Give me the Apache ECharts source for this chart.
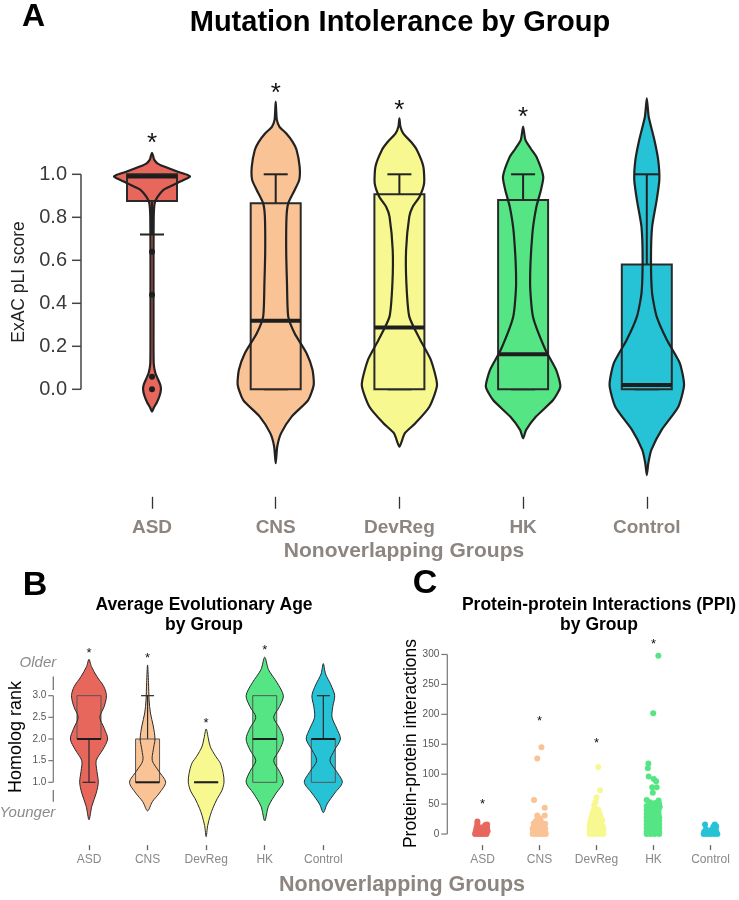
<!DOCTYPE html>
<html>
<head>
<meta charset="utf-8">
<script src="https://cdn.jsdelivr.net/npm/echarts@6/dist/echarts.min.js"></script>
<style>html,body{margin:0;padding:0;background:#fff}#main{width:739px;height:900px}</style>
</head>
<body>
<div id="main"></div>
<script>
var groups = ['ASD', 'CNS', 'DevReg', 'HK', 'Control'];
var colors = ['#E8675D', '#FAC396', '#F8F891', '#56E584', '#26C3D6'];

// A: pLI violins, [value, relative half width]
var pliViolinASD = [[1.100,0],[1.085,0.03],[1.067,0.06],[1.050,0.15],[1.036,0.32],[1.012,0.68],[0.996,0.95],[0.989,1.0],[0.980,0.92],[0.961,0.68],[0.930,0.32],[0.896,0.15],[0.865,0.07],[0.80,0.045],[0.60,0.04],[0.30,0.04],[0.12,0.045],[0.075,0.09],[0.05,0.15],[0.02,0.22],[0.0,0.235],[-0.03,0.2],[-0.06,0.13],[-0.085,0.05],[-0.104,0]];
var pliViolinCNS = [[1.338,0],[1.299,0.012],[1.253,0.03],[1.221,0.1],[1.19,0.28],[1.15,0.45],[1.113,0.55],[1.036,0.63],[0.974,0.62],[0.927,0.5],[0.865,0.33],[0.803,0.285],[0.648,0.276],[0.493,0.297],[0.338,0.33],[0.26,0.5],[0.167,0.815],[0.09,0.97],[0.02,1.0],[-0.05,0.855],[-0.127,0.42],[-0.205,0.14],[-0.267,0.04],[-0.344,0]];
var pliViolinDevReg = [[1.26,0],[1.222,0.025],[1.19,0.1],[1.15,0.31],[1.113,0.46],[1.036,0.63],[0.958,0.65],[0.896,0.53],[0.849,0.35],[0.803,0.26],[0.648,0.176],[0.493,0.184],[0.338,0.26],[0.229,0.55],[0.136,0.83],[0.02,0.99],[-0.081,0.79],[-0.158,0.42],[-0.205,0.14],[-0.267,0]];
var pliViolinHK = [[1.222,0],[1.16,0.06],[1.12,0.2],[1.082,0.35],[0.989,0.53],[0.927,0.47],[0.849,0.35],[0.725,0.245],[0.493,0.184],[0.338,0.26],[0.183,0.59],[0.09,0.87],[0.012,0.98],[-0.05,0.79],[-0.127,0.34],[-0.189,0.08],[-0.228,0]];
var pliViolinControl = [[1.353,0],[1.268,0.05],[1.16,0.2],[1.067,0.3],[0.974,0.33],[0.88,0.26],[0.756,0.14],[0.601,0.11],[0.446,0.14],[0.338,0.26],[0.229,0.53],[0.121,0.87],[0.02,0.98],[-0.081,0.83],[-0.189,0.39],[-0.282,0.12],[-0.344,0.04],[-0.399,0]];
// [q1, median, q3, lower whisker, upper whisker]
var pliBoxes = [[0.876,0.99,1.0,0.72,null],[0,0.319,0.865,0,1.0],[0,0.287,0.907,0,1.0],[0,0.163,0.88,0,1.0],[0,0.02,0.58,0,1.0]];
var pliOutliers = [[0.64,0.44,0.058,0.0],[],[],[],[]];
var pliStars = [1.167,1.40,1.322,1.287,null];
var pliTicks = [0,0.2,0.4,0.6,0.8,1.0];

// B: homolog rank violins
var ageViolinASD = [[3.84,0],[3.67,0.13],[3.44,0.42],[3.21,0.78],[3.0,0.92],[2.75,0.8],[2.5,0.57],[2.25,0.8],[2.0,0.98],[1.75,0.72],[1.5,0.38],[1.25,0.42],[1.0,0.49],[0.75,0.38],[0.45,0.15],[0.134,0]];
var ageViolinCNS = [[3.71,0],[3.3,0.05],[2.9,0.08],[2.6,0.15],[2.3,0.3],[2.0,0.39],[1.75,0.3],[1.5,0.25],[1.25,0.6],[1.0,0.95],[0.75,0.62],[0.55,0.25],[0.34,0]];
var ageViolinDevReg = [[2.23,0],[2.0,0.12],[1.82,0.22],[1.6,0.5],[1.44,0.75],[1.2,0.9],[1.0,0.94],[0.8,0.82],[0.62,0.58],[0.4,0.35],[0.24,0.22],[0.0,0.08],[-0.256,0]];
var ageViolinHK = [[3.89,0],[3.6,0.2],[3.3,0.65],[3.0,0.98],[2.75,0.78],[2.5,0.47],[2.25,0.78],[2.0,0.98],[1.75,0.78],[1.5,0.47],[1.25,0.78],[1.0,0.98],[0.75,0.6],[0.45,0.2],[0.11,0]];
var ageViolinControl = [[3.74,0],[3.5,0.12],[3.25,0.4],[3.0,0.6],[2.75,0.5],[2.5,0.46],[2.25,0.7],[2.0,0.9],[1.75,0.6],[1.5,0.35],[1.25,0.7],[1.0,1.0],[0.75,0.6],[0.5,0.2],[0.3,0]];
var ageBoxes = [[2,2,3,1,null],[1,1,2,null,3],[1,1,1,null,null],[1,2,3,null,null],[1,2,2,null,3]];
var ageStars = [4.04,3.92,2.42,4.1,null];
var ageTicks = [1.0,1.5,2.0,2.5,3.0];

// C: PPI points, [offset from group centre, interactions]
var ppiASD = [[-0.13,0],[-0.08,0],[-0.03,0],[0.02,0],[0.07,0],[-0.12,4],[-0.06,3],[0,4],[0.05,3],[0.09,5],[-0.11,8],[-0.05,7],[0.01,9],[0.06,8],[-0.1,12],[-0.03,11],[0.04,13],[0.08,11],[-0.09,17],[-0.09,21],[0.05,15],[0.08,16]];
var ppiCNS = [[0.034,145],[-0.04,126],[-0.096,57],[0.092,44],[-0.04,31],[0.092,31],[0.017,26],[-0.12,0],[-0.07,0],[-0.02,0],[0.03,0],[0.08,0],[0.11,0],[-0.11,4],[-0.05,5],[0.01,4],[0.06,5],[0.1,4],[-0.12,9],[-0.06,8],[0,10],[0.05,9],[0.1,9],[-0.1,13],[-0.04,14],[0.03,13],[0.08,14],[-0.1,18],[-0.02,19],[0.05,18],[0.1,17],[-0.06,22],[0.02,21]];
var ppiDevReg = [[0.03,112],[0.063,73],[0,61],[-0.017,54],[-0.04,48],[0.03,41],[-0.05,40],[0.04,38],[-0.07,35],[-0.01,34],[0.06,33],[-0.08,30],[0,29],[0.07,28],[-0.1,25],[-0.03,24],[0.04,24],[0.1,23],[-0.11,20],[-0.05,19],[0.02,19],[0.08,18],[-0.12,15],[-0.06,14],[0,14],[0.06,15],[0.11,13],[-0.12,10],[-0.06,9],[0,10],[0.06,9],[0.12,10],[-0.12,5],[-0.06,4],[0,5],[0.06,4],[0.12,5],[-0.12,0],[-0.06,0],[0,0],[0.06,0],[0.12,0]];
var ppiHK = [[0.085,298],[-0.005,202],[-0.09,118],[-0.1,110],[-0.085,96],[0.005,92],[0.046,88],[-0.022,78],[0.056,78],[-0.012,69],[-0.12,57],[0.09,56],[-0.06,53],[0.03,52],[0.1,50],[-0.12,47],[-0.04,46],[0.04,47],[0.11,45],[-0.12,40],[-0.05,40],[0.02,41],[0.09,40],[-0.12,34],[-0.05,34],[0.02,35],[0.09,34],[-0.12,28],[-0.05,28],[0.02,28],[0.1,28],[-0.12,22],[-0.05,22],[0.02,22],[0.1,22],[-0.12,16],[-0.05,16],[0.02,16],[0.1,16],[-0.12,10],[-0.05,10],[0.02,10],[0.1,10],[-0.12,4],[-0.05,4],[0.02,4],[0.1,4],[-0.12,0],[-0.05,0],[0.02,0],[0.1,0]];
var ppiControl = [[-0.096,16],[0.075,16],[-0.12,0],[-0.06,0],[0,0],[0.06,0],[0.12,0],[-0.11,4],[-0.04,3],[0.03,4],[0.1,4],[-0.08,8],[0.02,7],[0.09,9],[0.05,12],[0.1,13]];
var ppiStars = [54,193,156,322,null];
var ppiTicks = [0,50,100,150,200,250,300];

var FF = '"Liberation Sans", Arial, sans-serif';
var myChart = echarts.init(document.getElementById('main'));

function line(x1, y1, x2, y2, w, c) {
    return {type: 'line', shape: {x1: x1, y1: y1, x2: x2, y2: y2}, style: {stroke: c, lineWidth: w}};
}

// violin + box for one panel
function violinSeries(idx, profiles, boxes, outliers, stars, st) {
    return {
        type: 'custom', xAxisIndex: idx, yAxisIndex: idx, silent: true,
        data: groups.map(function (g, i) { return [i]; }),
        renderItem: function (params, api) {
            var i = api.value(0);
            var cx = api.coord([i, 0])[0];
            var yOf = function (v) { return api.coord([i, v])[1]; };
            var prof = profiles[i];
            var pts = [];
            prof.forEach(function (p) { pts.push([cx + p[1] * st.halfWidth, yOf(p[0])]); });
            for (var k = prof.length - 2; k > 0; k--) {
                pts.push([cx - prof[k][1] * st.halfWidth, yOf(prof[k][0])]);
            }
            var b = boxes[i];
            var yq1 = yOf(b[0]), ymed = yOf(b[1]), yq3 = yOf(b[2]);
            var kids = [];
            kids.push({type: 'polygon', shape: {points: pts, smooth: st.smooth}, style: {fill: colors[i], stroke: null}});
            if (b[3] != null) {
                kids.push(line(cx, yq1, cx, yOf(b[3]), st.whisker, st.ink));
                kids.push(line(cx - st.capHalf, yOf(b[3]), cx + st.capHalf, yOf(b[3]), st.whisker, st.ink));
            }
            if (b[4] != null) {
                kids.push(line(cx, yq3, cx, yOf(b[4]), st.whisker, st.ink));
                kids.push(line(cx - st.capHalf, yOf(b[4]), cx + st.capHalf, yOf(b[4]), st.whisker, st.ink));
            }
            kids.push({type: 'rect', shape: {x: cx - st.boxHalf, y: yq3, width: 2 * st.boxHalf, height: yq1 - yq3},
                style: {fill: colors[i], stroke: st.boxColor, lineWidth: st.boxLine}});
            kids.push(line(cx - st.boxHalf, ymed, cx + st.boxHalf, ymed, st.median, '#1e1e1e'));
            kids.push({type: 'polygon', shape: {points: pts, smooth: st.smooth}, style: {fill: null, stroke: st.ink, lineWidth: st.outline}});
            (outliers[i] || []).forEach(function (v) {
                kids.push({type: 'circle', shape: {cx: cx, cy: yOf(v), r: st.dotR}, style: {fill: '#1e1e1e'}});
            });
            if (stars[i] != null) {
                kids.push({type: 'text', style: {text: '*', x: cx, y: yOf(stars[i]) + st.starSize * 0.22,
                    align: 'center', verticalAlign: 'middle', font: st.starSize + 'px ' + FF, fill: '#111'}});
            }
            return {type: 'group', children: kids};
        }
    };
}

// y axis drawn only over the tick range
function yAxisSeries(idx, ticks, st) {
    return {
        type: 'custom', xAxisIndex: idx, yAxisIndex: idx, silent: true,
        data: ticks.map(function (t) { return [0, t]; }),
        renderItem: function (params, api) {
            var x = params.coordSys.x - st.offset;
            var v = api.value(1);
            var y = api.coord([0, v])[1];
            var kids = [
                line(x - st.tickLen, y, x, y, st.width, st.color),
                {type: 'text', style: {text: st.fmt(v), x: x - st.tickLen - st.gap, y: y, align: 'right',
                    verticalAlign: 'middle', font: st.font, fill: st.labelColor}}
            ];
            if (params.dataIndex === 0) {
                kids.push(line(x, api.coord([0, ticks[0]])[1], x, api.coord([0, ticks[ticks.length - 1]])[1], st.width, st.color));
                (st.extra || []).forEach(function (e) { kids.push(e(x, api)); });
            }
            return {type: 'group', children: kids};
        }
    };
}

function pointSeries(i, pts) {
    return {
        type: 'scatter', xAxisIndex: 3, yAxisIndex: 2, symbolSize: 6, silent: true,
        itemStyle: {color: colors[i], opacity: 1},
        data: pts.map(function (p) { return [i + p[0], p[1]]; })
    };
}

function txt(x, y, text, font, color, extra) {
    var el = {type: 'text', x: x, y: y, silent: true,
        style: {text: text, x: 0, y: 0, align: 'center', verticalAlign: 'middle', font: font, fill: color}};
    for (var k in extra) el[k] = extra[k];
    return el;
}

var catAxis = function (idx, tickLen, tickColor, margin, size, color, weight) {
    return {
        gridIndex: idx, type: 'category', data: groups,
        axisLine: {show: false, onZero: false},
        axisTick: {show: true, alignWithLabel: true, length: tickLen, lineStyle: {color: tickColor, width: 1.3}},
        axisLabel: {margin: margin, fontSize: size, color: color, fontWeight: weight, fontFamily: FF},
        splitLine: {show: false}
    };
};

var ageExtra = [
    function (x, api) { return line(x, api.coord([0, 3.44])[1], x, api.coord([0, 3.13])[1], 1.3, '#777'); },
    function (x, api) { return line(x, api.coord([0, 0.82])[1], x, api.coord([0, 0.55])[1], 1.3, '#777'); },
    function (x, api) { return {type: 'text', style: {text: 'Older', x: x + 3, y: api.coord([0, 3.755])[1], align: 'right',
        verticalAlign: 'middle', font: 'italic 15px ' + FF, fill: '#8a8a8a'}}; },
    function (x, api) { return {type: 'text', style: {text: 'Younger', x: x + 2, y: api.coord([0, 0.298])[1], align: 'right',
        verticalAlign: 'middle', font: 'italic 15px ' + FF, fill: '#8a8a8a'}}; }
];

var option = {
    animation: false,
    grid: [
        {left: 90.15, top: 84, width: 618.5, height: 412.8},
        {left: 59.7, top: 643.7, width: 292.9, height: 201.4},
        {left: 454, top: 643.7, width: 292.5, height: 201.4}
    ],
    xAxis: [
        catAxis(0, 12, '#333', 21, 19, '#8C8580', 'bold'),
        catAxis(1, 5, '#666', 9, 12, '#888', 'normal'),
        catAxis(2, 5, '#666', 9, 12, '#888', 'normal'),
        {gridIndex: 2, type: 'value', min: -0.5, max: 4.5, show: false}
    ],
    yAxis: [
        {gridIndex: 0, type: 'value', min: -0.5, max: 1.42, show: false},
        {gridIndex: 1, type: 'value', min: -0.45, max: 4.2, show: false},
        {gridIndex: 2, type: 'value', min: -18.5, max: 318, show: false}
    ],
    graphic: [
        txt(33.5, 17, 'A', 'bold 32px ' + FF, '#000'),
        txt(400, 23, 'Mutation Intolerance by Group', 'bold 29px ' + FF, '#000'),
        txt(19, 282, 'ExAC pLI score', '17.5px ' + FF, '#222', {rotation: Math.PI / 2}),
        txt(404, 551, 'Nonoverlapping Groups', 'bold 21px ' + FF, '#8C8580'),
        txt(35, 586, 'B', 'bold 34px ' + FF, '#000'),
        txt(204, 605, 'Average Evolutionary Age', 'bold 17.5px ' + FF, '#000'),
        txt(204, 625.5, 'by Group', 'bold 17.5px ' + FF, '#000'),
        txt(16, 737, 'Homolog rank', '18px ' + FF, '#000', {rotation: Math.PI / 2}),
        txt(425, 584, 'C', 'bold 34px ' + FF, '#000'),
        txt(599, 605, 'Protein-protein Interactions (PPI)', 'bold 17.5px ' + FF, '#000'),
        txt(599, 625.5, 'by Group', 'bold 17.5px ' + FF, '#000'),
        txt(411.5, 743.5, 'Protein-protein interactions', '17.5px ' + FF, '#000', {rotation: Math.PI / 2}),
        txt(402, 885, 'Nonoverlapping Groups', 'bold 21.5px ' + FF, '#8C8580')
    ],
    series: [
        violinSeries(0, [pliViolinASD, pliViolinCNS, pliViolinDevReg, pliViolinHK, pliViolinControl], pliBoxes, pliOutliers, pliStars,
            {halfWidth: 38, boxHalf: 25, capHalf: 12, smooth: 0.2, outline: 2.2, whisker: 2, boxLine: 2, boxColor: '#2a2a2a',
             median: 4, ink: '#222', dotR: 3, starSize: 26}),
        violinSeries(1, [ageViolinASD, ageViolinCNS, ageViolinDevReg, ageViolinHK, ageViolinControl], ageBoxes, [[], [], [], [], []], ageStars,
            {halfWidth: 19, boxHalf: 12, capHalf: 6.5, smooth: 0.3, outline: 1, whisker: 1.2, boxLine: 1, boxColor: '#555',
             median: 2, ink: '#2a2a2a', dotR: 2, starSize: 13}),
        yAxisSeries(0, pliTicks, {offset: 9.15, tickLen: 9, gap: 5, width: 1.5, color: '#444', labelColor: '#3a3a3a',
            font: '20px ' + FF, fmt: function (v) { return v.toFixed(1); }}),
        yAxisSeries(1, ageTicks, {offset: 6.4, tickLen: 5, gap: 2, width: 1.2, color: '#777', labelColor: '#555',
            font: '10px ' + FF, fmt: function (v) { return v.toFixed(1); }, extra: ageExtra}),
        yAxisSeries(2, ppiTicks, {offset: 6.7, tickLen: 6, gap: 2, width: 1.2, color: '#777', labelColor: '#555',
            font: '10px ' + FF, fmt: function (v) { return String(v); }}),
        pointSeries(0, ppiASD),
        pointSeries(1, ppiCNS),
        pointSeries(2, ppiDevReg),
        pointSeries(3, ppiHK),
        pointSeries(4, ppiControl),
        {
            type: 'custom', xAxisIndex: 2, yAxisIndex: 2, silent: true,
            data: groups.map(function (g, i) { return [i]; }),
            renderItem: function (params, api) {
                var i = api.value(0);
                if (ppiStars[i] == null) return null;
                var p = api.coord([i, ppiStars[i]]);
                return {type: 'text', style: {text: '*', x: p[0], y: p[1] + 3, align: 'center', verticalAlign: 'middle',
                    font: '13px ' + FF, fill: '#111'}};
            }
        }
    ]
};
myChart.setOption(option);
</script>
</body>
</html>
